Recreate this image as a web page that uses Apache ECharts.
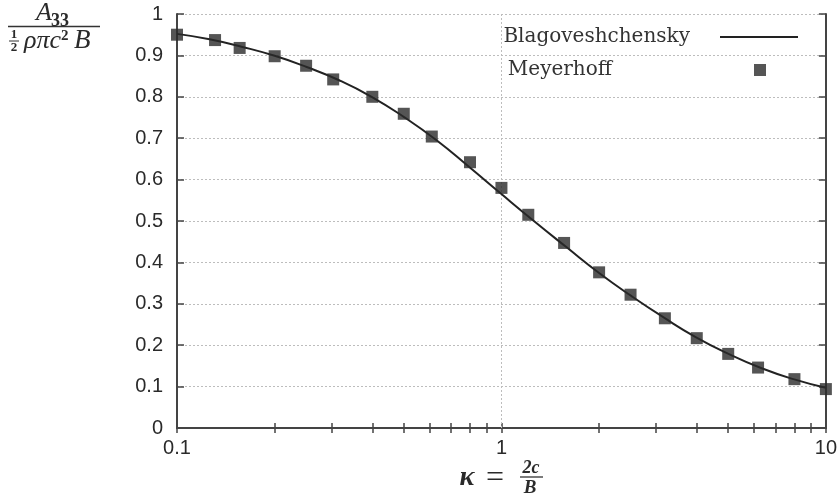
<!DOCTYPE html>
<html>
<head>
<meta charset="utf-8">
<script src="https://cdn.jsdelivr.net/npm/echarts@6/dist/echarts.min.js"></script>
<style>html,body{margin:0;padding:0;background:#fff;}#c{width:840px;height:503px;}</style>
</head>
<body>
<div id="c"></div>
<script>
// Meyerhoff measurements
var meyerX = [0.1, 0.131, 0.156, 0.2, 0.25, 0.303, 0.4, 0.5, 0.61, 0.8, 1.0, 1.21, 1.56, 2.0, 2.5, 3.19, 4.0, 5.0, 6.18, 8.0, 10.0];
var meyerY = [0.950, 0.937, 0.918, 0.898, 0.875, 0.842, 0.800, 0.759, 0.704, 0.642, 0.580, 0.515, 0.447, 0.376, 0.322, 0.265, 0.217, 0.179, 0.146, 0.118, 0.094];
// Blagoveshchensky curve
var blagX = [0.1, 0.126, 0.158, 0.2, 0.251, 0.316, 0.398, 0.501, 0.631, 0.794, 1.0, 1.259, 1.585, 1.995, 2.512, 3.162, 3.981, 5.012, 6.31, 7.943, 10.0];
var blagY = [0.952, 0.939, 0.921, 0.899, 0.872, 0.840, 0.800, 0.751, 0.695, 0.631, 0.565, 0.500, 0.437, 0.375, 0.319, 0.267, 0.219, 0.179, 0.145, 0.118, 0.097];
// axis ticks
var xTickValues = [0.1,0.2,0.3,0.4,0.5,0.6,0.7,0.8,0.9,1,2,3,4,5,6,7,8,9,10];
var xGridValues = [1];

function zip(a, b) { return a.map(function (v, i) { return [v, b[i]]; }); }

var axisColor = '#444';
var gridLine = { color: '#bdbdbd', type: [2, 2], width: 1 };
var labelStyle = { color: '#2a2a2a', fontFamily: 'Liberation Sans', fontSize: 20 };

var chart = echarts.init(document.getElementById('c'));
chart.setOption({
  animation: false,
  backgroundColor: '#fff',
  grid: { left: 177, right: 14, top: 14, bottom: 75 },
  xAxis: [
    { type: 'log', min: 0.1, max: 10, logBase: 10, position: 'bottom',
      axisLine: { show: true, lineStyle: { color: axisColor, width: 2 } },
      axisTick: { show: true, inside: true, length: 5, customValues: xTickValues, lineStyle: { color: axisColor, width: 1.5 } },
      axisLabel: Object.assign({ margin: 10 }, labelStyle),
      splitLine: { show: false } },
    { type: 'log', min: 0.1, max: 10, logBase: 10, position: 'top',
      axisLine: { show: true, lineStyle: { color: axisColor, width: 2 } },
      axisTick: { show: true, inside: true, length: 5, customValues: xTickValues, lineStyle: { color: axisColor, width: 1.5 } },
      axisLabel: { show: false }, splitLine: { show: false } }
  ],
  yAxis: [
    { type: 'value', min: 0, max: 1, interval: 0.1, position: 'left',
      axisLine: { show: true, lineStyle: { color: axisColor, width: 2 } },
      axisTick: { show: true, inside: true, length: 7, lineStyle: { color: axisColor, width: 1.5 } },
      axisLabel: Object.assign({ margin: 14 }, labelStyle),
      splitLine: { show: true, lineStyle: gridLine } },
    { type: 'value', min: 0, max: 1, interval: 0.1, position: 'right',
      axisLine: { show: true, lineStyle: { color: axisColor, width: 2 } },
      axisTick: { show: true, inside: true, length: 7, lineStyle: { color: axisColor, width: 1.5 } },
      axisLabel: { show: false }, splitLine: { show: false } }
  ],
  legend: [
    { data: [{ name: 'Blagoveshchensky', icon: 'rect' }], right: 42, top: 25, padding: 0, align: 'right',
      itemWidth: 78, itemHeight: 2,
      textStyle: { fontFamily: 'DejaVu Serif', fontSize: 20, color: '#333', lineHeight: 24, padding: [0, 25, 0, 0] } },
    { data: [{ name: 'Meyerhoff', icon: 'rect' }], right: 74, top: 58, padding: 0, align: 'right',
      itemWidth: 12, itemHeight: 12,
      textStyle: { fontFamily: 'DejaVu Serif', fontSize: 20, color: '#333', lineHeight: 24, padding: [0, 137, 0, 0] } }
  ],
  series: [
    { name: 'Blagoveshchensky', type: 'line', xAxisIndex: 0, yAxisIndex: 0,
      data: zip(blagX, blagY), smooth: true, symbol: 'none',
      lineStyle: { color: '#222', width: 2 }, itemStyle: { color: '#222' }, z: 3,
      markLine: { silent: true, symbol: ['none', 'none'], label: { show: false },
        lineStyle: gridLine, z: 1,
        data: xGridValues.map(function (v) { return { xAxis: v }; }) } },
    { name: 'Meyerhoff', type: 'scatter', xAxisIndex: 0, yAxisIndex: 0,
      data: zip(meyerX, meyerY), symbol: 'rect', symbolSize: 12,
      itemStyle: { color: '#2b2b2b' }, z: 4 }
  ],
  graphic: [
    // y-axis title: A33 / (1/2 rho pi c^2 B)
    { type: 'text', style: { text: 'A', x: 36, y: 13, font: 'italic 26px "Liberation Serif"', fill: '#2a2a2a', align: 'left', verticalAlign: 'middle' } },
    { type: 'text', style: { text: '33', x: 51, y: 21, font: 'bold 18px "Liberation Serif"', fill: '#2a2a2a', align: 'left', verticalAlign: 'middle' } },
    { type: 'line', shape: { x1: 8, y1: 26.5, x2: 100, y2: 26.5 }, style: { stroke: '#333', lineWidth: 1.5 } },
    { type: 'text', style: { text: '1', x: 14, y: 35, font: 'bold 13px "Liberation Serif"', fill: '#2a2a2a', align: 'center', verticalAlign: 'middle' } },
    { type: 'line', shape: { x1: 9, y1: 41, x2: 19, y2: 41 }, style: { stroke: '#333', lineWidth: 1 } },
    { type: 'text', style: { text: '2', x: 14, y: 48, font: 'bold 13px "Liberation Serif"', fill: '#2a2a2a', align: 'center', verticalAlign: 'middle' } },
    { type: 'text', style: { text: 'ρπc', x: 24, y: 41, font: 'italic 26px "Liberation Serif"', fill: '#2a2a2a', align: 'left', verticalAlign: 'middle' } },
    { type: 'text', style: { text: '2', x: 61, y: 36, font: 'bold 15px "Liberation Serif"', fill: '#2a2a2a', align: 'left', verticalAlign: 'middle' } },
    { type: 'text', style: { text: 'B', x: 74, y: 41, font: 'italic 27px "Liberation Serif"', fill: '#2a2a2a', align: 'left', verticalAlign: 'middle' } },
    // x-axis title: kappa = 2c/B
    { type: 'text', style: { text: 'κ', x: 467, y: 478, font: 'italic bold 28px "Liberation Serif"', fill: '#2a2a2a', align: 'center', verticalAlign: 'middle' } },
    { type: 'text', style: { text: '=', x: 495, y: 479, font: '32px "Liberation Serif"', fill: '#2a2a2a', align: 'center', verticalAlign: 'middle' } },
    { type: 'text', style: { text: '2c', x: 531, y: 468, font: 'italic bold 18px "Liberation Serif"', fill: '#2a2a2a', align: 'center', verticalAlign: 'middle' } },
    { type: 'line', shape: { x1: 520, y1: 477, x2: 543, y2: 477 }, style: { stroke: '#333', lineWidth: 1.3 } },
    { type: 'text', style: { text: 'B', x: 530, y: 488, font: 'italic bold 19px "Liberation Serif"', fill: '#2a2a2a', align: 'center', verticalAlign: 'middle' } }
  ]
});
</script>
</body>
</html>
